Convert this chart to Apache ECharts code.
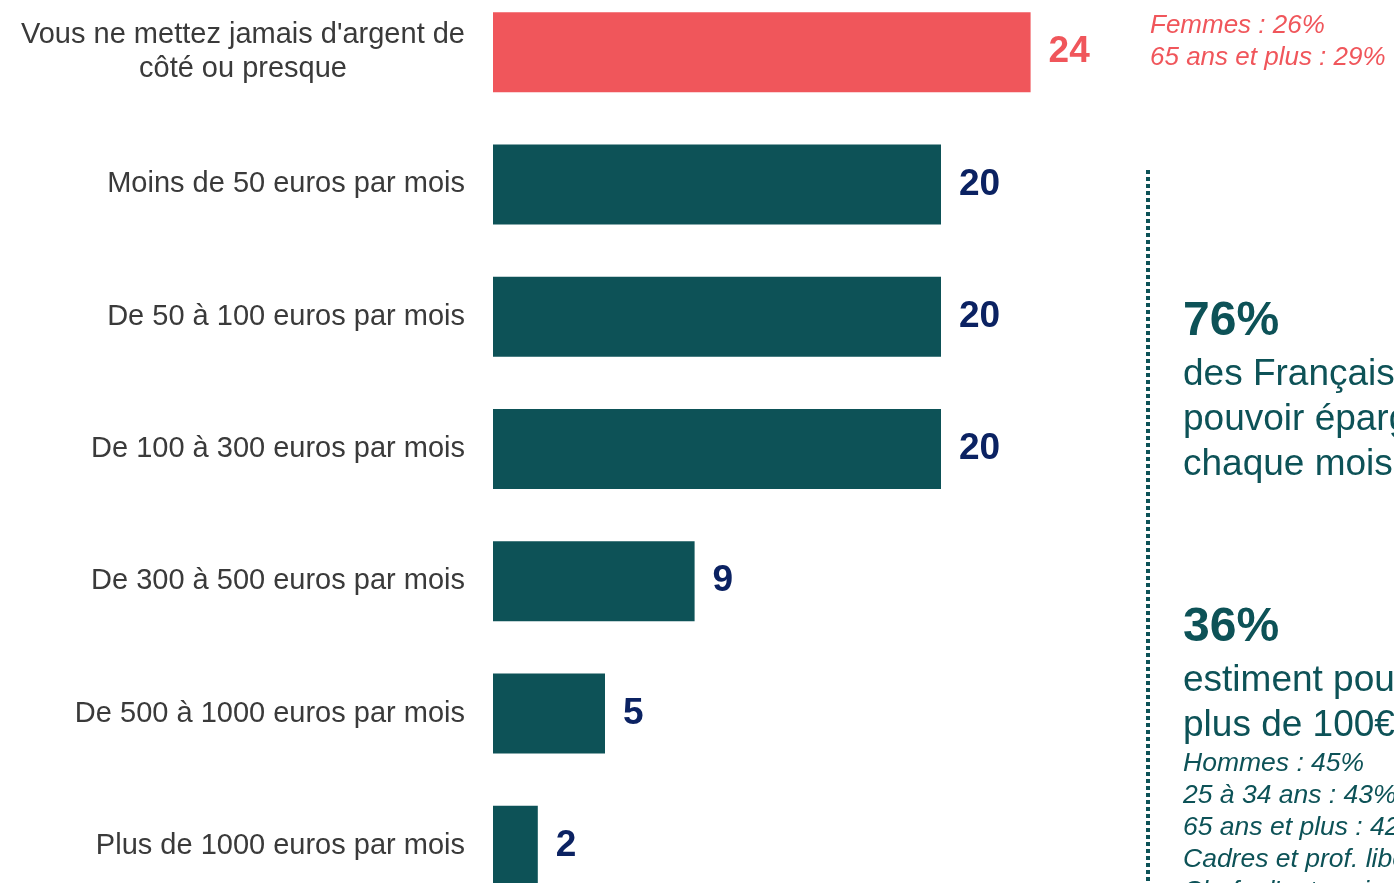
<!DOCTYPE html>
<html>
<head>
<meta charset="utf-8">
<script src="https://cdn.jsdelivr.net/npm/echarts@6/dist/echarts.min.js"></script>
<style>
  html, body { margin: 0; padding: 0; background: #fff; }
  #chart { width: 1394px; height: 883px; }
</style>
</head>
<body>
<div id="chart"></div>
<script>
// données
const categories = [
  "Vous ne mettez jamais d'argent de\ncôté ou presque",
  'Moins de 50 euros par mois',
  'De 50 à 100 euros par mois',
  'De 100 à 300 euros par mois',
  'De 300 à 500 euros par mois',
  'De 500 à 1000 euros par mois',
  'Plus de 1000 euros par mois'
]
const values = [24, 20, 20, 20, 9, 5, 2]
const highlighted = [true, false, false, false, false, false, false]

const topNotes = ['Femmes : 26%', '65 ans et plus : 29%']
const block1 = { figure: '76%', lines: ['des Français estiment', 'pouvoir épargner', 'chaque mois'] }
const block2 = {
  figure: '36%',
  lines: ['estiment pouvoir épargner', 'plus de 100€ par mois'],
  details: ['Hommes : 45%', '25 à 34 ans : 43%', '65 ans et plus : 42%', 'Cadres et prof. libérales : 50%', "Chefs d'entreprise : 48%"]
}

const TEAL = '#0d5257'
const RED = '#f0565b'
const NAVY = '#0b2262'
const FONT = '"Liberation Sans", Arial, sans-serif'

const chart = echarts.init(document.getElementById('chart'))

// textes de droite
const graphics = [
  {
    type: 'line',
    shape: { x1: 1148, y1: 170, x2: 1148, y2: 890 },
    style: { stroke: TEAL, lineWidth: 4, lineDash: [4, 3] }
  }
]
topNotes.forEach((t, i) => {
  graphics.push({
    type: 'text', left: 1150, top: 13 + i * 32,
    style: { text: t, fill: RED, font: 'italic 26px ' + FONT }
  })
})
const addBlock = (b, y0) => {
  graphics.push({
    type: 'text', left: 1183, top: y0,
    style: { text: b.figure, fill: TEAL, font: 'bold 48px ' + FONT }
  })
  b.lines.forEach((t, i) => {
    graphics.push({
      type: 'text', left: 1183, top: y0 + 58 + i * 45,
      style: { text: t, fill: TEAL, font: '37px ' + FONT }
    })
  })
  ;(b.details || []).forEach((t, i) => {
    graphics.push({
      type: 'text', left: 1183, top: y0 + 146 + i * 32,
      style: { text: t, fill: TEAL, font: 'italic 26.5px ' + FONT }
    })
  })
}
addBlock(block1, 298)
addBlock(block2, 604)

chart.setOption({
  animation: false,
  grid: { left: 493, top: -14, width: 672, height: 926, outerBoundsMode: 'none' },
  xAxis: {
    type: 'value', min: 0, max: 30,
    show: false
  },
  yAxis: {
    type: 'category',
    data: categories,
    inverse: true,
    axisLine: { show: false },
    axisTick: { show: false },
    splitLine: { show: false },
    axisLabel: {
      margin: 28,
      formatter: v => v.split('\n').map(s => '{c|' + s + '}').join('\n'),
      rich: {
        c: { align: 'center', fontSize: 29, lineHeight: 34, color: '#3a3a3a', fontFamily: FONT }
      }
    }
  },
  series: [{
    type: 'bar',
    barWidth: 80,
    data: values.map((v, i) => ({
      value: v,
      itemStyle: { color: highlighted[i] ? RED : TEAL },
      label: { color: highlighted[i] ? RED : NAVY }
    })),
    label: {
      show: true,
      position: 'right',
      distance: 18,
      fontSize: 37,
      fontWeight: 'bold',
      fontFamily: FONT
    }
  }],
  graphic: graphics
})
</script>
</body>
</html>
